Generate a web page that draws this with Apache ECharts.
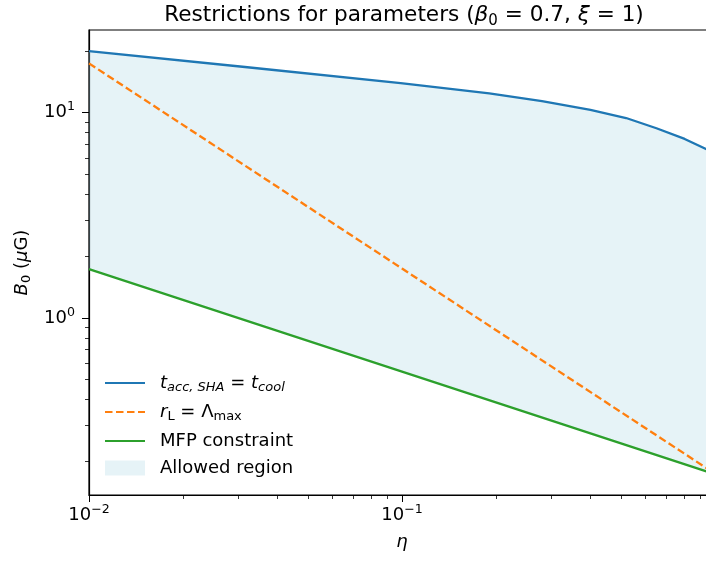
<!DOCTYPE html>
<html>
<head>
<meta charset="utf-8">
<script src="https://cdn.jsdelivr.net/npm/echarts@6/dist/echarts.min.js"></script>
<style>
  html, body { margin: 0; padding: 0; background: #fff; }
  #chart { width: 706px; height: 561px; }
</style>
</head>
<body>
<div id="chart"></div>
<script>
// 数据（从图上读出来的）
const blueEta = [0.01, 0.0315, 0.099, 0.19, 0.28, 0.4, 0.52, 0.65, 0.8, 0.94, 0.97, 1.0];
const blueB = [19.97, 16.7, 13.95, 12.43, 11.4, 10.31, 9.42, 8.4, 7.45, 6.63, 6.44, 6.08];
const orangeEta = [0.01, 0.1, 1];
const orangeB = [17.4, 1.74, 0.174];
const greenEta = [0.01, 0.1, 1];
const greenB = [1.73, 0.547, 0.173];

// 刻度
const xMajor = [0.01, 0.1, 1];
const xMinor = [0.02, 0.03, 0.04, 0.05, 0.06, 0.07, 0.08, 0.09, 0.2, 0.3, 0.4, 0.5, 0.6, 0.7, 0.8, 0.9];
const yMajor = [1, 10];
const yMinor = [0.2, 0.3, 0.4, 0.5, 0.6, 0.7, 0.8, 0.9, 2, 3, 4, 5, 6, 7, 8, 9, 20];

const font = 'DejaVu Sans';
const fillColor = 'rgba(173,216,230,0.3)';

const toPairs = (xs, ys) => xs.map((x, i) => [x, ys[i]]);

// 10^n 刻度标签
const powLabel = (value) => {
  const e = Math.round(Math.log10(value));
  return '{b|10}{p|' + (e < 0 ? '\u2212' : '') + Math.abs(e) + '}';
};
const tickRich = {
  b: { fontFamily: font, fontSize: 18, lineHeight: 24, color: '#000' },
  p: { fontFamily: font, fontSize: 12.6, lineHeight: 12, verticalAlign: 'top', color: '#000' }
};

const legendText = {
  tacc: '{i|t}{si|acc, SHA}{n| = }{i|t}{si|cool}',
  rL: '{i|r}{s|L}{n| = \u039B}{s|max}',
  mfp: '{n|MFP constraint}',
  allowed: '{n|Allowed region}'
};

// 次刻度用一根看不见的轴来画
const minorAxis = (range, values, position) => ({
  type: 'log',
  logBase: 10,
  position: position,
  min: range[0],
  max: range[1],
  splitLine: { show: false },
  axisLine: { show: false },
  axisLabel: { show: false },
  axisTick: { show: true, inside: false, length: 4, customValues: values, lineStyle: { color: '#000', width: 0.8 } }
});

const chart = echarts.init(document.getElementById('chart'));

const option = {
  animation: false,
  backgroundColor: '#fff',
  title: {
    text: '{n|Restrictions for parameters (}{i|\u03B2}{s|0}{n| = 0.7, }{i|\u03BE}{n| = 1)}',
    left: 399,
    textAlign: 'center',
    top: -4,
    textStyle: {
      fontWeight: 'normal',
      rich: {
        n: { fontFamily: font, fontSize: 21.6, lineHeight: 28, fontWeight: 'normal', color: '#000' },
        i: { fontFamily: font, fontSize: 21.6, lineHeight: 28, fontWeight: 'normal', fontStyle: 'italic', color: '#000' },
        s: { fontFamily: font, fontSize: 15, lineHeight: 15, fontWeight: 'normal', verticalAlign: 'bottom', color: '#000' }
      }
    }
  },
  grid: {
    left: 89,
    right: -9,
    top: 30,
    bottom: 66,
    outerBoundsMode: 'none',
    containLabel: false,
    show: true,
    borderColor: '#000',
    borderWidth: 1.2
  },
  legend: {
    orient: 'vertical',
    left: 104,
    top: 374,
    padding: 0,
    itemWidth: 40,
    itemHeight: 15,
    itemGap: 9,
    itemStyle: { opacity: 0 },
    data: [
      { name: 'tacc' },
      { name: 'rL' },
      { name: 'mfp' },
      { name: 'allowed', icon: 'rect', itemStyle: { opacity: 1 } }
    ],
    formatter: (name) => legendText[name],
    textStyle: {
      padding: [0, 0, 0, 10],
      rich: {
        n: { fontFamily: font, fontSize: 18, lineHeight: 22, color: '#000' },
        i: { fontFamily: font, fontSize: 18, lineHeight: 22, fontStyle: 'italic', color: '#000' },
        s: { fontFamily: font, fontSize: 13, lineHeight: 13, verticalAlign: 'bottom', color: '#000' },
        si: { fontFamily: font, fontSize: 13, lineHeight: 13, verticalAlign: 'bottom', fontStyle: 'italic', color: '#000' }
      }
    }
  },
  xAxis: [
    {
      type: 'log',
      logBase: 10,
      position: 'bottom',
      min: 0.01,
      max: 1,
      name: '{i|\u03B7}',
      nameLocation: 'middle',
      nameGap: 38,
      nameTextStyle: {
        rich: { i: { fontFamily: font, fontSize: 18, fontStyle: 'italic', color: '#000' } }
      },
      splitLine: { show: false },
      axisLine: { show: true, lineStyle: { color: '#000', width: 1.2 } },
      axisTick: { show: true, inside: false, length: 7, customValues: xMajor, lineStyle: { color: '#000', width: 1 } },
      axisLabel: { margin: 8, customValues: xMajor.slice(0, 2), formatter: powLabel, rich: tickRich }
    },
    minorAxis([0.01, 1], xMinor, 'bottom')
  ],
  yAxis: [
    {
      type: 'log',
      logBase: 10,
      position: 'left',
      min: 0.137,
      max: 25.3,
      name: '{i|B}{s|0}{n| (}{i|\u03BC}{n|G)}',
      nameLocation: 'middle',
      nameRotate: 90,
      nameGap: 56,
      nameTextStyle: {
        rich: {
          n: { fontFamily: font, fontSize: 18, lineHeight: 22, color: '#000' },
          i: { fontFamily: font, fontSize: 18, lineHeight: 22, fontStyle: 'italic', color: '#000' },
          s: { fontFamily: font, fontSize: 13, lineHeight: 13, verticalAlign: 'bottom', color: '#000' }
        }
      },
      splitLine: { show: false },
      axisLine: { show: true, lineStyle: { color: '#000', width: 1.2 } },
      axisTick: { show: true, inside: false, length: 7, customValues: yMajor, lineStyle: { color: '#000', width: 1 } },
      axisLabel: { margin: 14, customValues: yMajor, formatter: powLabel, rich: tickRich }
    },
    minorAxis([0.137, 25.3], yMinor, 'left')
  ],
  series: [
    {
      // 允许区域（蓝线和绿线之间）
      name: 'allowed',
      type: 'custom',
      z: 1,
      itemStyle: { color: fillColor },
      data: [[0.1, 1]],
      encode: { x: 0, y: 1 },
      renderItem: (params, api) => {
        const pts = blueEta.map((e, i) => api.coord([e, blueB[i]]));
        for (let i = greenEta.length - 1; i >= 0; i--) {
          pts.push(api.coord([greenEta[i], greenB[i]]));
        }
        return { type: 'polygon', shape: { points: pts }, style: { fill: fillColor } };
      }
    },
    {
      name: 'tacc',
      type: 'line',
      z: 3,
      symbol: 'none',
      smooth: false,
      color: '#1f77b4',
      lineStyle: { color: '#1f77b4', width: 2.3, join: 'round' },
      data: toPairs(blueEta, blueB)
    },
    {
      name: 'rL',
      type: 'line',
      z: 3,
      symbol: 'none',
      color: '#ff7f0e',
      lineStyle: { color: '#ff7f0e', width: 2.3, type: [7.5, 3.5] },
      data: toPairs(orangeEta, orangeB)
    },
    {
      name: 'mfp',
      type: 'line',
      z: 3,
      symbol: 'none',
      color: '#2ca02c',
      lineStyle: { color: '#2ca02c', width: 2.3 },
      data: toPairs(greenEta, greenB)
    }
  ]
};

chart.setOption(option);
</script>
</body>
</html>
